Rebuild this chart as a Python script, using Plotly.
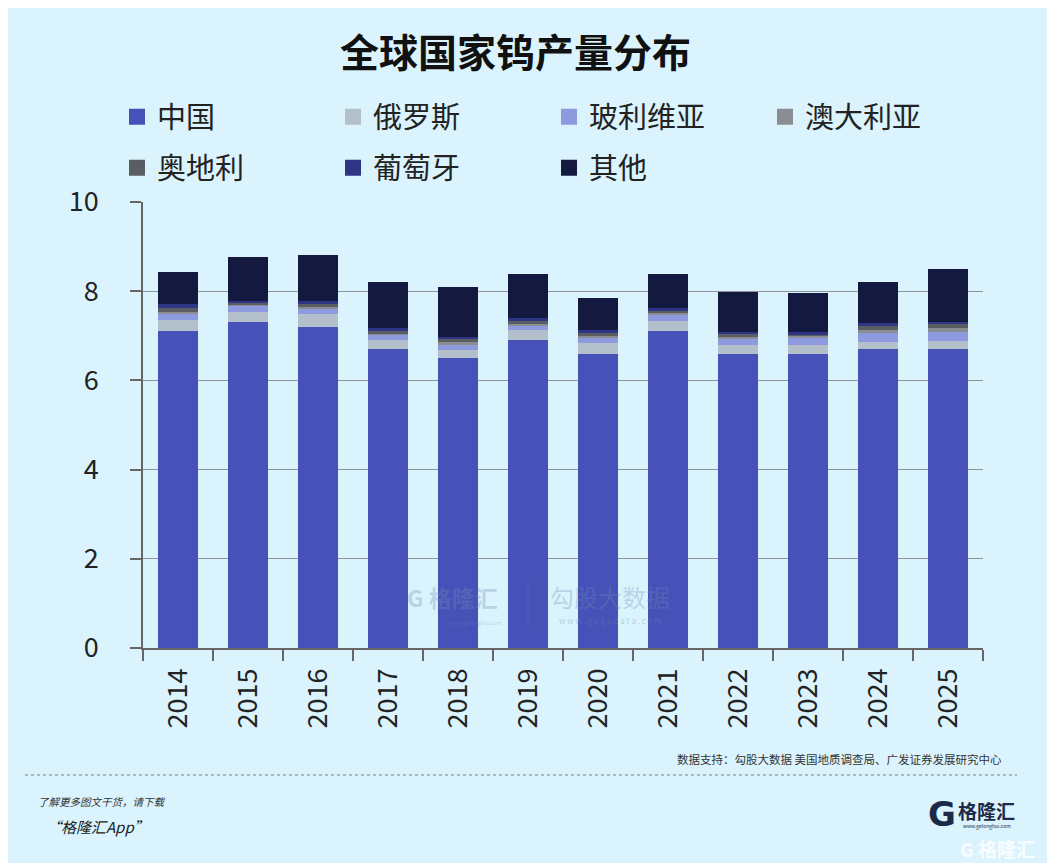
import plotly.graph_objects as go

# 全球国家钨产量（万吨）
years = ["2014", "2015", "2016", "2017", "2018", "2019",
         "2020", "2021", "2022", "2023", "2024", "2025"]
china = [7.1, 7.3, 7.2, 6.7, 6.5, 6.9, 6.6, 7.1, 6.6, 6.6, 6.7, 6.7]
russia = [0.26, 0.24, 0.30, 0.21, 0.19, 0.23, 0.24, 0.24, 0.19, 0.19, 0.17, 0.19]
bolivia = [0.13, 0.14, 0.12, 0.11, 0.11, 0.11, 0.12, 0.14, 0.15, 0.17, 0.19, 0.20]
australia = [0.05, 0.02, 0.03, 0.03, 0.05, 0.03, 0.04, 0.03, 0.04, 0.03, 0.08, 0.09]
austria = [0.09, 0.05, 0.06, 0.06, 0.07, 0.06, 0.06, 0.05, 0.06, 0.05, 0.08, 0.08]
portugal = [0.08, 0.04, 0.06, 0.06, 0.06, 0.06, 0.06, 0.06, 0.05, 0.04, 0.06, 0.06]
others = [0.73, 0.98, 1.04, 1.04, 1.12, 1.00, 0.72, 0.77, 0.90, 0.87, 0.93, 1.18]

series = [
    ("中国", china, "#4652b8"),
    ("俄罗斯", russia, "#b4bfcc"),
    ("玻利维亚", bolivia, "#8e9ade"),
    ("澳大利亚", australia, "#8a8d92"),
    ("奥地利", austria, "#5a5d62"),
    ("葡萄牙", portugal, "#2f3585"),
    ("其他", others, "#141a3f"),
]

BG = "#daf3fd"
CJK = "Noto Sans CJK SC"
# page has an 8px body margin, so the figure is sized to the rest of the window
OFF = 8
W, H = 1055 - OFF, 863 - OFF


def px(x):
    return (x - OFF) / W


def py(y):
    return 1 - (y - OFF) / H


fig = go.Figure()
for name, vals, color in series:
    fig.add_trace(go.Bar(
        x=years, y=vals, name=name, showlegend=False,
        marker=dict(color=color, line=dict(width=0)),
        width=0.57,
    ))

# legend swatches: two rows as two legends
for i, (name, vals, color) in enumerate(series):
    fig.add_trace(go.Scatter(
        x=[None], y=[None], mode="markers", name=name,
        marker=dict(symbol="square", size=18, color=color),
        legend="legend" if i < 4 else "legend2",
    ))

ann = [
    dict(x=px(515), y=py(50), text="<b>全球国家钨产量分布</b>",
         font=dict(size=39, color="#111", family=CJK), xanchor="center"),
    dict(x=px(1004), y=py(759), text="数据支持：勾股大数据 美国地质调查局、广发证券发展研究中心",
         font=dict(size=11.5, color="#333", family=CJK), xanchor="right"),
    dict(x=px(36), y=py(801), text="<i>了解更多图文干货，请下载</i>",
         font=dict(size=10.5, color="#333", family=CJK), xanchor="left"),
    dict(x=px(44), y=py(826), text="<i>“格隆汇App”</i>",
         font=dict(size=15, color="#222", family=CJK), xanchor="left"),
    dict(x=px(942), y=py(814), text="<b>G</b>",
         font=dict(size=34, color="#1c2a48", family="DejaVu Sans"), xanchor="center"),
    dict(x=px(987), y=py(810), text="<b>格隆汇</b>",
         font=dict(size=19, color="#1c2a48", family=CJK), xanchor="center"),
    dict(x=px(987), y=py(826), text="www.gelonghui.com",
         font=dict(size=5, color="#1c2a48", family=CJK), xanchor="center"),
    dict(x=px(997), y=py(848), text="<b>G 格隆汇</b>",
         font=dict(size=19, color="rgba(255,255,255,0.85)", family=CJK), xanchor="center"),
    # watermark in the middle of the plot
    dict(x=px(452), y=py(597), text="<b>G 格隆汇</b>",
         font=dict(size=23, color="rgba(110,140,180,0.32)", family=CJK), xanchor="center"),
    dict(x=px(475), y=py(623), text="www.gelonghui.com",
         font=dict(size=5.5, color="rgba(110,140,180,0.35)", family=CJK), xanchor="center"),
    dict(x=px(610), y=py(596), text="勾股大数据",
         font=dict(size=24, color="rgba(110,140,180,0.32)", family=CJK), xanchor="center"),
    dict(x=px(610), y=py(620), text="w w w . g o g u d a t a . c o m",
         font=dict(size=8, color="rgba(110,140,180,0.38)", family=CJK), xanchor="center"),
]
for a in ann:
    a.update(xref="paper", yref="paper", showarrow=False, yanchor="middle")
    fig.add_annotation(**a)

fig.add_shape(type="line", xref="paper", yref="paper",
              x0=px(25), x1=px(1017), y0=py(775), y1=py(775),
              line=dict(color="#9aa5ad", width=1.5, dash="dot"))
fig.add_shape(type="line", xref="paper", yref="paper",
              x0=px(528), x1=px(528), y0=py(582), y1=py(626),
              line=dict(color="rgba(110,140,180,0.32)", width=1))

leg = dict(
    orientation="h", xanchor="left", yanchor="middle",
    font=dict(size=29, family=CJK, color="#222"),
    entrywidth=171, entrywidthmode="pixels",
    traceorder="normal", bgcolor="rgba(0,0,0,0)", borderwidth=0,
    itemsizing="trace",
)

fig.update_layout(
    width=W, height=H, autosize=False,
    margin=dict(l=0, r=0, t=0, b=0, pad=0),
    paper_bgcolor=BG, plot_bgcolor=BG,
    barmode="stack",
    font=dict(family=CJK, color="#222"),
    legend=dict(leg, x=px(117), y=py(117)),
    legend2=dict(leg, x=px(117), y=py(168)),
    xaxis=dict(
        domain=[px(143), px(983)],
        type="category", automargin=False,
        tickangle=-90,
        ticks="outside", ticklen=11, tickcolor="#666", tickwidth=1.5,
        tickson="boundaries", ticklabelstandoff=8,
        showline=True, linecolor="#666", linewidth=1.5,
        tickfont=dict(size=27, family=CJK, color="#222"),
        showgrid=False,
    ),
    yaxis=dict(
        domain=[py(648), py(202)],
        range=[0, 10], dtick=2, automargin=False,
        ticks="outside", ticklen=11, tickcolor="#666", tickwidth=1.5,
        ticklabelstandoff=26,
        showline=True, linecolor="#666", linewidth=1.5,
        showgrid=True, gridcolor="#8c9399", gridwidth=1,
        zeroline=False,
        tickfont=dict(size=27, family=CJK, color="#222"),
    ),
)

fig.write_html("out.html")
